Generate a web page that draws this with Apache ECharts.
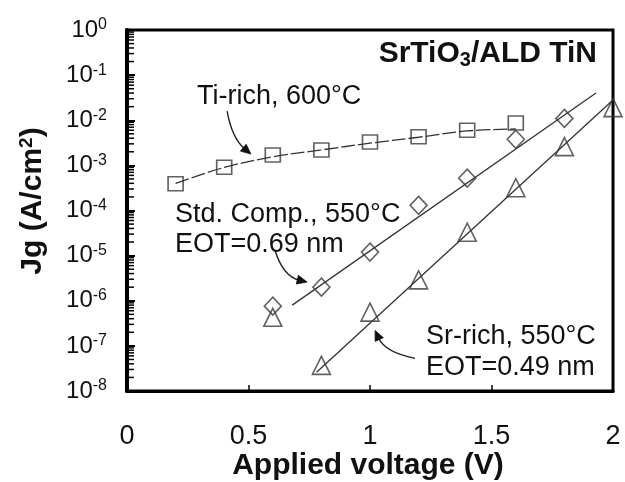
<!DOCTYPE html>
<html>
<head>
<meta charset="utf-8">
<script src="https://cdn.jsdelivr.net/npm/echarts@6/dist/echarts.min.js"></script>
<style>
  html, body { margin: 0; padding: 0; background: #fff; }
  #chart { width: 625px; height: 482px; }
</style>
</head>
<body>
<div id="chart"></div>
<script>
// Gate leakage Jg vs applied voltage, SrTiO3 with ALD TiN electrodes

// Ti-rich film, 600°C anneal (squares) and its guide curve
const tiRichVoltage = [0.2, 0.4, 0.6, 0.8, 1.0, 1.2, 1.4, 1.6];
const tiRichJg = [3.9e-4, 9.1e-4, 1.7e-3, 2.2e-3, 3.3e-3, 4.3e-3, 6.0e-3, 8.7e-3];
const tiRichFitJg = [4.0e-4, 9.0e-4, 1.55e-3, 2.2e-3, 3.1e-3, 4.2e-3, 5.8e-3, 6.4e-3];

// Standard composition, 550°C, EOT = 0.69 nm (diamonds) and its fit
const stdVoltage = [0.6, 0.8, 1.0, 1.2, 1.4, 1.6, 1.8];
const stdJg = [7.6e-7, 2.0e-6, 1.2e-5, 1.3e-4, 5.2e-4, 3.8e-3, 1.1e-2];
const stdFitVoltage = [0.68, 1.93];
const stdFitJg = [8.0e-7, 4.0e-2];

// Sr-rich film, 550°C, EOT = 0.49 nm (triangles) and its fit
const srRichVoltage = [0.6, 0.8, 1.0, 1.2, 1.4, 1.6, 1.8, 2.0];
const srRichJg = [4.3e-7, 3.7e-8, 5.6e-7, 2.9e-6, 3.3e-5, 3.2e-4, 2.6e-3, 1.9e-2];
const srFitVoltage = [0.78, 2.0];
const srFitJg = [2.6e-8, 2.8e-2];

// Axis ticks
const xTicks = [0, 0.5, 1, 1.5, 2];
const yDecades = [-8, -7, -6, -5, -4, -3, -2, -1];
const minorMultipliers = [2, 3, 4, 5, 6, 7, 8, 9];

// Callout arrows in data units: start, control point, tip
const calloutArrows = [
  [0.412, 1.6e-2, 0.432, 4.0e-3, 0.510, 1.78e-3],
  [0.609, 1.32e-5, 0.642, 3.5e-6, 0.741, 2.6e-6],
  [1.185, 5.3e-8, 1.062, 7.2e-8, 1.021, 2.2e-7]
];

const FONT = 'Arial, "Liberation Sans", Helvetica, sans-serif';
const INK = '#111';
const MARK = '#3a3a3a';

const pairs = (xs, ys) => xs.map((x, i) => [x, ys[i]]);

const minorTickData = [];
yDecades.forEach(d => minorMultipliers.forEach(m => minorTickData.push([0, m * Math.pow(10, d)])));

const chart = echarts.init(document.getElementById('chart'), null, { renderer: 'canvas' });

const option = {
  animation: false,
  backgroundColor: '#fff',
  grid: {
    left: 127, right: 12, top: 30, bottom: 91,
    show: true, borderColor: '#000', borderWidth: 3, backgroundColor: 'transparent'
  },
  xAxis: {
    type: 'value', min: 0, max: 2, interval: 0.5,
    axisLine: { lineStyle: { color: '#000', width: 3 } },
    axisTick: { inside: true, length: 6, lineStyle: { color: '#000', width: 1.5 } },
    axisLabel: {
      margin: 32, fontSize: 27, fontFamily: FONT, color: INK,
      formatter: v => xTicks.indexOf(v) >= 0 ? String(v) : ''
    },
    splitLine: { show: false }
  },
  yAxis: {
    type: 'log', logBase: 10, min: 1e-8, max: 1,
    axisLine: { lineStyle: { color: '#000', width: 4 } },
    axisTick: { inside: true, length: 8, lineStyle: { color: '#000', width: 2 } },
    axisLabel: {
      margin: 20, fontFamily: FONT, color: INK,
      formatter: v => '{b|10}{s|' + Math.round(Math.log10(v)) + '}',
      rich: {
        b: { fontSize: 24, lineHeight: 26, fontFamily: FONT, color: INK },
        s: { fontSize: 16, lineHeight: 16, verticalAlign: 'top', fontFamily: FONT, color: INK }
      }
    },
    splitLine: { show: false }
  },
  series: [
    {
      name: 'Ti-rich fit', type: 'line', data: pairs(tiRichVoltage, tiRichFitJg),
      smooth: 0.35, symbol: 'none',
      lineStyle: { color: '#333', width: 1.3, type: [14, 3] }, z: 2
    },
    {
      name: 'Std. Comp. fit', type: 'line', data: pairs(stdFitVoltage, stdFitJg),
      symbol: 'none', lineStyle: { color: '#333', width: 1.3 }, z: 2
    },
    {
      name: 'Sr-rich fit', type: 'line', data: pairs(srFitVoltage, srFitJg),
      symbol: 'none', lineStyle: { color: '#333', width: 1.3 }, z: 2
    },
    {
      name: 'Ti-rich, 600°C', type: 'scatter', data: pairs(tiRichVoltage, tiRichJg),
      symbol: 'rect', symbolSize: [15, 14], clip: false,
      itemStyle: { color: 'rgba(0,0,0,0)', borderColor: MARK, borderWidth: 1.6 }, z: 3
    },
    {
      name: 'Std. Comp., 550°C', type: 'scatter', data: pairs(stdVoltage, stdJg),
      symbol: 'diamond', symbolSize: [17, 18], clip: false,
      itemStyle: { color: 'rgba(0,0,0,0)', borderColor: MARK, borderWidth: 1.6 }, z: 3
    },
    {
      name: 'Sr-rich, 550°C', type: 'scatter', data: pairs(srRichVoltage, srRichJg),
      symbol: 'triangle', symbolSize: [18, 18], clip: false,
      itemStyle: { color: 'rgba(0,0,0,0)', borderColor: MARK, borderWidth: 1.6 }, z: 3
    },
    {
      // log-spaced minor ticks on the Jg axis
      name: 'minor ticks', type: 'custom', data: minorTickData,
      encode: { x: 0, y: 1 }, silent: true, clip: false, z: 5,
      renderItem: (params, api) => {
        const p = api.coord([api.value(0), api.value(1)]);
        return {
          type: 'line',
          shape: { x1: p[0], y1: p[1], x2: p[0] + 7, y2: p[1] },
          style: { stroke: '#000', lineWidth: 1.5 }
        };
      }
    },
    {
      // curved callout arrows
      name: 'callouts', type: 'custom', data: calloutArrows,
      encode: { x: [0, 2, 4], y: [1, 3, 5] }, silent: true, clip: false, z: 4,
      renderItem: (params, api) => {
        const p0 = api.coord([api.value(0), api.value(1)]);
        const c = api.coord([api.value(2), api.value(3)]);
        const p1 = api.coord([api.value(4), api.value(5)]);
        let dx = p1[0] - c[0], dy = p1[1] - c[1];
        const len = Math.hypot(dx, dy) || 1;
        dx /= len; dy /= len;
        const L = 10, W = 4.5;
        const bx = p1[0] - dx * L, by = p1[1] - dy * L;
        return {
          type: 'group',
          children: [
            {
              type: 'bezierCurve',
              shape: { x1: p0[0], y1: p0[1], cpx1: c[0], cpy1: c[1], x2: bx + dx * 2, y2: by + dy * 2 },
              style: { stroke: '#222', lineWidth: 1.4, fill: null }
            },
            {
              type: 'polygon',
              shape: { points: [[p1[0], p1[1]], [bx - dy * W, by + dx * W], [bx + dy * W, by - dx * W]] },
              style: { fill: '#111', stroke: '#111', lineWidth: 0.8 }
            }
          ]
        };
      }
    }
  ],
  graphic: [
    {
      type: 'text', x: 597, y: 54, z: 10,
      style: {
        text: '{b|SrTiO}{sub|3}{b|/ALD TiN}',
        textAlign: 'right', align: 'right', textVerticalAlign: 'middle', verticalAlign: 'middle',
        rich: {
          b: { fontSize: 30, fontWeight: 'bold', lineHeight: 32, fontFamily: FONT, fill: INK, color: INK },
          sub: { fontSize: 20, fontWeight: 'bold', lineHeight: 20, verticalAlign: 'bottom', fontFamily: FONT, fill: INK, color: INK }
        }
      }
    },
    {
      type: 'text', x: 197, y: 97, z: 10,
      style: { text: 'Ti-rich, 600°C', font: '27px ' + FONT, fill: INK,
        textAlign: 'left', align: 'left', textVerticalAlign: 'middle', verticalAlign: 'middle' }
    },
    {
      type: 'text', x: 175, y: 215, z: 10,
      style: { text: 'Std. Comp., 550°C', font: '27px ' + FONT, fill: INK,
        textAlign: 'left', align: 'left', textVerticalAlign: 'middle', verticalAlign: 'middle' }
    },
    {
      type: 'text', x: 175, y: 245, z: 10,
      style: { text: 'EOT=0.69 nm', font: '27px ' + FONT, fill: INK,
        textAlign: 'left', align: 'left', textVerticalAlign: 'middle', verticalAlign: 'middle' }
    },
    {
      type: 'text', x: 426, y: 337, z: 10,
      style: { text: 'Sr-rich, 550°C', font: '27px ' + FONT, fill: INK,
        textAlign: 'left', align: 'left', textVerticalAlign: 'middle', verticalAlign: 'middle' }
    },
    {
      type: 'text', x: 426, y: 368, z: 10,
      style: { text: 'EOT=0.49 nm', font: '27px ' + FONT, fill: INK,
        textAlign: 'left', align: 'left', textVerticalAlign: 'middle', verticalAlign: 'middle' }
    },
    {
      type: 'text', x: 368, y: 466, z: 10,
      style: { text: 'Applied voltage (V)', font: 'bold 30px ' + FONT, fill: INK,
        textAlign: 'center', align: 'center', textVerticalAlign: 'middle', verticalAlign: 'middle' }
    },
    {
      type: 'text', x: 33, y: 201, rotation: Math.PI / 2, z: 10,
      style: {
        text: '{a|Jg (A/cm}{s|2}{a|)}',
        textAlign: 'center', align: 'center', textVerticalAlign: 'middle', verticalAlign: 'middle',
        rich: {
          a: { fontSize: 30, fontWeight: 'bold', lineHeight: 32, fontFamily: FONT, fill: INK, color: INK },
          s: { fontSize: 19, fontWeight: 'bold', lineHeight: 19, verticalAlign: 'top', fontFamily: FONT, fill: INK, color: INK }
        }
      }
    }
  ]
};

chart.setOption(option);
</script>
</body>
</html>
